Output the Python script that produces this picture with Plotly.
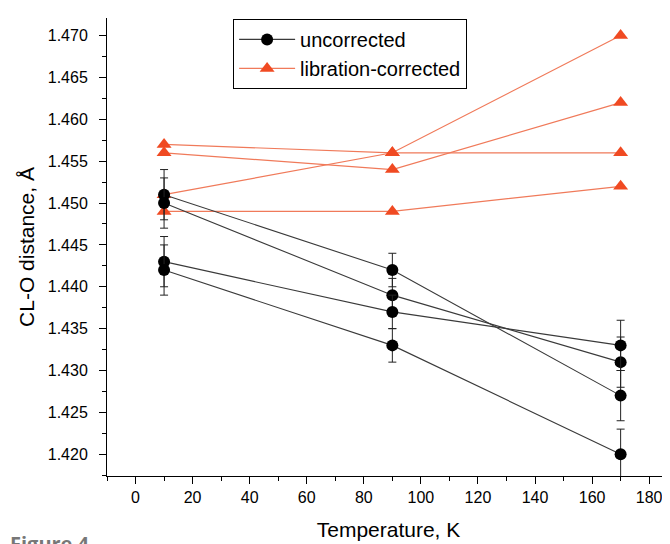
import plotly.graph_objects as go

temps = [10, 90, 170]

uncorrected = [
    [1.451, 1.442, 1.427],
    [1.450, 1.439, 1.431],
    [1.443, 1.437, 1.433],
    [1.442, 1.433, 1.420],
]
uncorrected_err = [0.003, 0.002, 0.003]

libration_corrected = [
    [1.457, 1.456, 1.456],
    [1.456, 1.454, 1.462],
    [1.451, 1.456, 1.470],
    [1.449, 1.449, 1.452],
]

y_ticks = [1.420, 1.425, 1.430, 1.435, 1.440, 1.445, 1.450, 1.455, 1.460, 1.465, 1.470]
x_ticks = [0, 20, 40, 60, 80, 100, 120, 140, 160, 180]

BLACK_LINE = "#3a3a3a"
ORANGE_LINE = "#f07a5a"
ORANGE_MARK = "#f04a22"

fig = go.Figure()

for i, ys in enumerate(libration_corrected):
    fig.add_trace(go.Scatter(
        x=temps, y=ys, mode="lines+markers",
        name="libration-corrected", legendgroup="lib", showlegend=(i == 0),
        line=dict(color=ORANGE_LINE, width=1.2),
        marker=dict(symbol="triangle-up", size=13, color=ORANGE_MARK, line=dict(width=0)),
        legendrank=2,
    ))

for i, ys in enumerate(uncorrected):
    fig.add_trace(go.Scatter(
        x=temps, y=ys, mode="lines+markers",
        name="uncorrected", legendgroup="unc", showlegend=(i == 0),
        line=dict(color=BLACK_LINE, width=1.1),
        marker=dict(symbol="circle", size=12, color="black", line=dict(width=0)),
        error_y=dict(type="data", array=uncorrected_err, visible=True,
                     color="#222222", thickness=1, width=4),
        legendrank=1,
    ))

fig.add_annotation(
    text="Figure 4", xref="paper", yref="paper", x=-0.176, y=-0.1135,
    xanchor="left", yanchor="top", showarrow=False,
    font=dict(family="Open Sans", size=20, color="#777777", weight="bold"),
)

fig.update_layout(
    width=662, height=536,
    margin=dict(l=99, r=0, t=10, b=68),
    paper_bgcolor="white", plot_bgcolor="white",
    font=dict(family="Liberation Sans, Arial, sans-serif", color="black"),
    legend=dict(
        x=0.224, y=0.998, xanchor="left", yanchor="top",
        bordercolor="black", borderwidth=1, bgcolor="white",
        font=dict(size=20), itemwidth=56, tracegroupgap=0,
        traceorder="normal",
    ),
    xaxis=dict(
        range=[-10, 187.3], tickvals=x_ticks, ticks="outside", ticklen=7,
        tickwidth=1, tickcolor="black", showline=True, linecolor="black",
        linewidth=1, showgrid=False, zeroline=False,
        tickfont=dict(size=16),
        minor=dict(dtick=10, tick0=0, ticks="outside", ticklen=4, tickcolor="black", tickwidth=1),
        title=dict(text="Temperature, K", font=dict(size=21), standoff=17),
    ),
    yaxis=dict(
        range=[1.4174, 1.4721], tickvals=y_ticks, tickformat=".3f",
        ticks="outside", ticklen=7, tickwidth=1, tickcolor="black",
        showline=True, linecolor="black", linewidth=1, showgrid=False,
        zeroline=False, tickfont=dict(size=16), ticklabelstandoff=8,
        minor=dict(dtick=0.0025, tick0=1.420, ticks="outside", ticklen=4, tickcolor="black", tickwidth=1),
        title=dict(text="CL-O distance, Å", font=dict(size=21), standoff=7),
    ),
)

fig.write_html("out.html")
